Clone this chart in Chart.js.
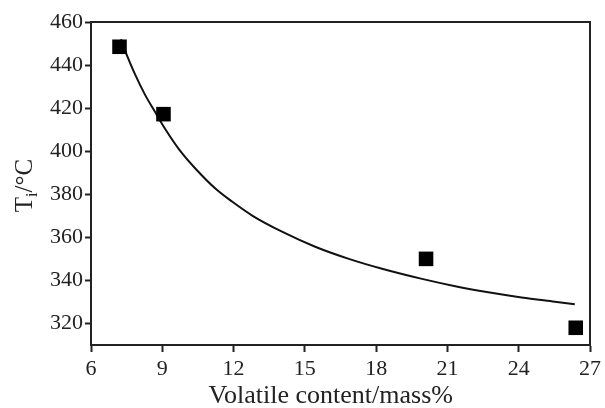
<!DOCTYPE html>
<html lang="en">
<head>
<meta charset="UTF-8">
<title>Ti vs volatile content</title>
<script src="https://cdn.jsdelivr.net/npm/chart.js@4.4.2/dist/chart.umd.min.js"></script>
<style>
  body { margin: 0; background: #fff; }
  #wrap { width: 605px; height: 408px; }
</style>
</head>
<body>
<div id="wrap"><canvas id="tiChart" width="605" height="408"></canvas></div>
<script>
  // measured points
  const volatileX = [7.2, 9.05, 20.1, 26.4];
  const tiValues = [448.5, 417.2, 350, 318];
  // fitted curve
  const fitX = [7.26, 7.53, 7.84, 8.26, 8.68, 9.17, 9.73, 10.43, 11.27, 11.95, 12.8, 14.06, 15.46, 16.85, 18.25, 19.93, 21.33, 22.72, 24.12, 25.52, 26.36];
  const fitY = [452, 444, 436, 426.5, 418.5, 409.5, 400.5, 391.5, 382.3, 376.5, 370, 362.5, 355.5, 350, 345.4, 340.7, 337.3, 334.5, 332.1, 330.1, 328.9];
  const xTicks = [6, 9, 12, 15, 18, 21, 24, 27];
  const yTicks = [320, 340, 360, 380, 400, 420, 440, 460];

  const serif = 'Liberation Serif';
  const ink = '#222';

  const framePlugin = {
    id: 'frame',
    afterDraw(chart) {
      const { ctx, chartArea: a } = chart;
      ctx.save();
      ctx.strokeStyle = ink;
      ctx.lineWidth = 2;
      ctx.strokeRect(a.left, a.top, a.right - a.left, a.bottom - a.top);

      // y axis title: T_i/°C
      const big = '25px "' + serif + '"';
      const small = '16px "' + serif + '"';
      ctx.fillStyle = ink;
      ctx.textBaseline = 'alphabetic';
      ctx.font = big;
      const wT = ctx.measureText('T').width;
      const wRest = ctx.measureText('/°C').width;
      ctx.font = small;
      const wi = ctx.measureText('i').width;
      const total = wT + wi + wRest;
      ctx.translate(32, (a.top + a.bottom) / 2 + 2);
      ctx.rotate(-Math.PI / 2);
      let x = -total / 2;
      ctx.font = big;
      ctx.fillText('T', x, 0);
      x += wT;
      ctx.font = small;
      ctx.fillText('i', x, 5);
      x += wi;
      ctx.font = big;
      ctx.fillText('/°C', x, 0);
      ctx.restore();
    }
  };

  new Chart(document.getElementById('tiChart'), {
    type: 'scatter',
    data: {
      datasets: [
        {
          label: 'Ti',
          data: volatileX.map((v, i) => ({ x: v, y: tiValues[i] })),
          pointStyle: 'rect',
          pointRadius: 10.3,
          pointBorderWidth: 0,
          backgroundColor: '#000',
          order: 0
        },
        {
          type: 'line',
          label: 'fit',
          data: fitX.map((v, i) => ({ x: v, y: fitY[i] })),
          borderColor: '#111',
          borderWidth: 2,
          pointRadius: 0,
          cubicInterpolationMode: 'monotone',
          fill: false,
          order: 1
        }
      ]
    },
    options: {
      responsive: false,
      animation: false,
      devicePixelRatio: 1,
      layout: { padding: { top: 22, right: 13, left: 0, bottom: 0 } },
      plugins: { legend: { display: false }, tooltip: { enabled: false } },
      scales: {
        x: {
          type: 'linear',
          min: 6,
          max: 27,
          afterBuildTicks: s => { s.ticks = xTicks.map(v => ({ value: v })); },
          afterFit: s => { s.height = 63; },
          grid: { display: true, drawOnChartArea: false, drawTicks: true, tickLength: 7, tickWidth: 2, color: ink },
          border: { display: true, width: 2, color: ink },
          ticks: { color: ink, font: { family: serif, size: 22 }, padding: 4, maxRotation: 0 },
          // trailing spaces nudge the title a little left, as in the original
          title: { display: true, text: 'Volatile content/mass%   ', color: ink, font: { family: serif, size: 26 }, padding: { top: 0, bottom: -4 } }
        },
        y: {
          type: 'linear',
          min: 310,
          max: 460,
          afterBuildTicks: s => { s.ticks = yTicks.map(v => ({ value: v })); },
          afterFit: s => { s.width = 91; },
          grid: { display: true, drawOnChartArea: false, drawTicks: true, tickLength: 6, tickWidth: 2, color: ink },
          border: { display: true, width: 2, color: ink },
          ticks: { color: ink, font: { family: serif, size: 22 }, padding: 2 }
        }
      }
    },
    plugins: [framePlugin]
  });
</script>
</body>
</html>
